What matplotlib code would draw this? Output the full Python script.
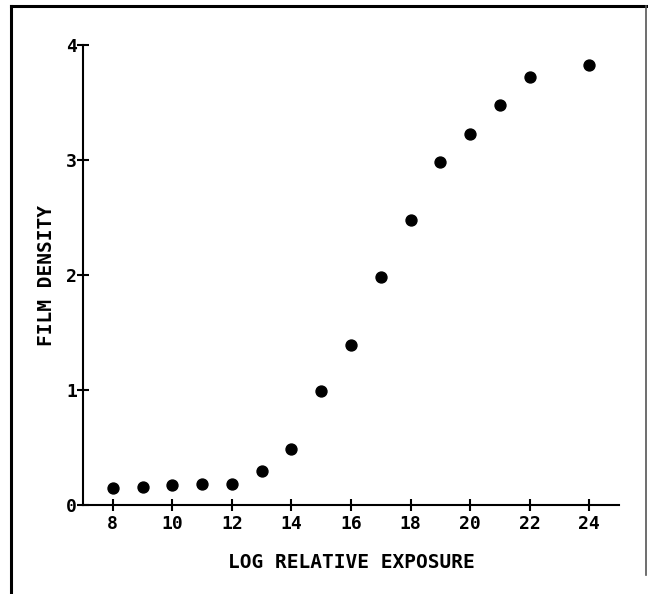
import matplotlib
matplotlib.use("Agg")
import matplotlib.pyplot as plt
from matplotlib.lines import Line2D

# Data
log_exposure = [8, 9, 10, 11, 12, 13, 14, 15, 16, 17, 18, 19, 20, 21, 22, 24]
film_density = [0.15, 0.16, 0.17, 0.18, 0.185, 0.30, 0.49, 0.99, 1.39, 1.98, 2.48, 2.98, 3.23, 3.48, 3.72, 3.83]
x_ticks = [8, 10, 12, 14, 16, 18, 20, 22, 24]
y_ticks = [0, 1, 2, 3, 4]

W, H = 648, 594
fig = plt.figure(figsize=(W / 100, H / 100), dpi=100)
ax = fig.add_axes([83 / W, 1 - 505 / H, (619 - 83) / W, (505 - 45) / H])

ax.scatter(log_exposure, film_density, s=62, color="black", zorder=3, clip_on=False)

ax.set_xlim(7, 25)
ax.set_ylim(0, 4)
ax.set_xticks(x_ticks)
ax.set_yticks(y_ticks)

font = dict(family="DejaVu Sans Mono", weight="bold")
ax.set_xticklabels([str(v) for v in x_ticks], fontsize=13, **font)
ax.set_yticklabels([str(v) for v in y_ticks], fontsize=13, **font)
ax.tick_params(direction="inout", length=9, width=1.5)
ax.tick_params(axis="x", pad=3)
ax.tick_params(axis="y", pad=0)

for s in ["top", "right"]:
    ax.spines[s].set_visible(False)
for s in ["left", "bottom"]:
    ax.spines[s].set_linewidth(1.5)

ax.set_xlabel("LOG RELATIVE EXPOSURE", fontsize=14, labelpad=14, **font)
ax.set_ylabel("FILM DENSITY", fontsize=14, labelpad=7, **font)

# Figure frame
def fx(px):
    return px / W

def fy(py):
    return 1 - py / H

fig.add_artist(Line2D([fx(11), fx(11)], [fy(594), fy(6)], color="black", lw=2.2, transform=fig.transFigure))
fig.add_artist(Line2D([fx(11), fx(646)], [fy(6), fy(6)], color="black", lw=2.2, transform=fig.transFigure))
fig.add_artist(Line2D([fx(646), fx(646)], [fy(6), fy(575)], color="#555555", lw=1.2, transform=fig.transFigure))

fig.savefig("out.png", dpi=100)
